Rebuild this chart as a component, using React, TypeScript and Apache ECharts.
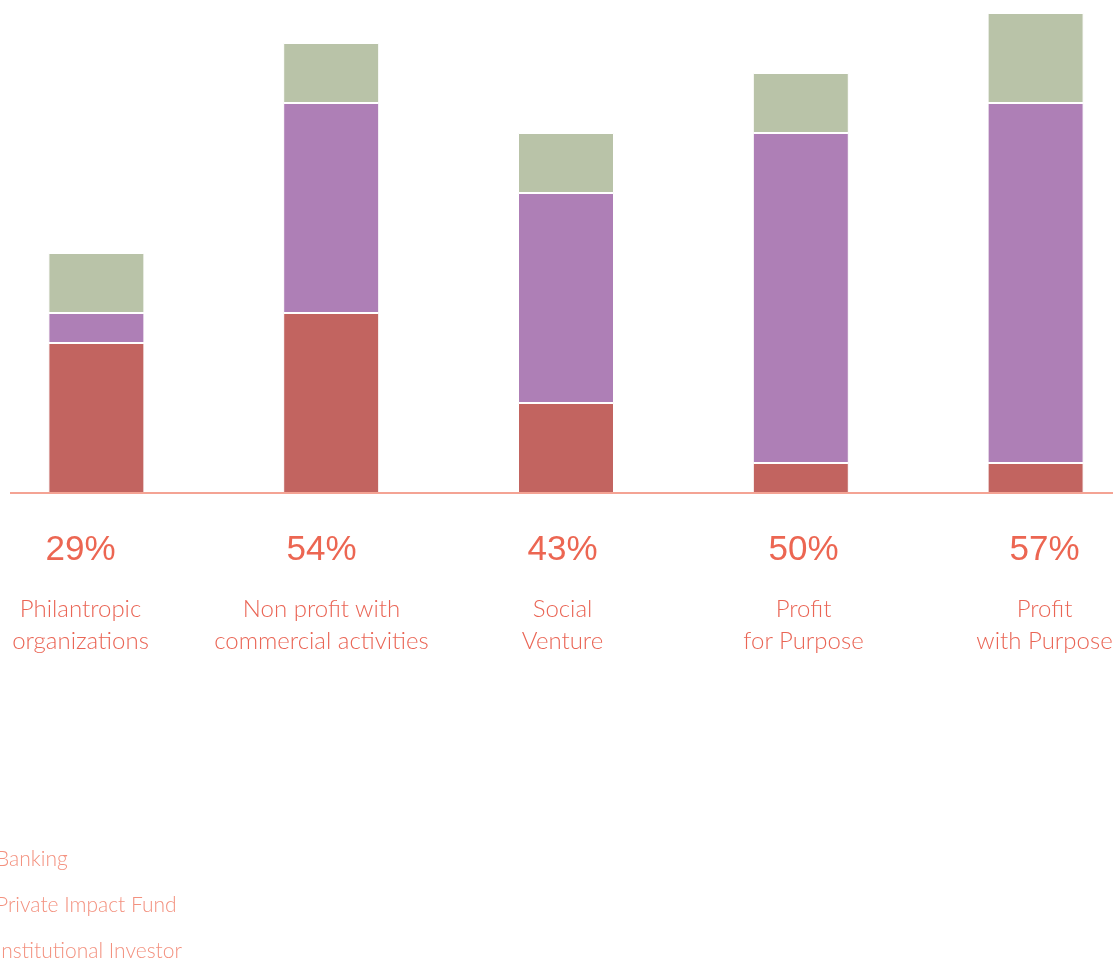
import React, { useEffect, useRef } from "react";
import * as echarts from "echarts";

const categories = [
  "Philantropic\norganizations",
  "Non profit with\ncommercial activities",
  "Social\nVenture",
  "Profit\nfor Purpose",
  "Profit\nwith Purpose",
];
const percentLabels = ["29%", "54%", "43%", "50%", "57%"];
const seriesNames = ["Banking", "Private Impact Fund", "Institutional Investor"];
const banking = [5, 6, 3, 1, 1];
const privateImpactFund = [1, 7, 7, 11, 12];
const institutionalInvestor = [2, 2, 2, 2, 3];
const colors = ["#c26460", "#ae7fb6", "#b9c3a8"];

export default function App() {
  const ref = useRef<HTMLDivElement>(null);
  useEffect(() => {
    if (!ref.current) return;
    const chart = echarts.init(ref.current, undefined, { renderer: "svg" });
    const values = [banking, privateImpactFund, institutionalInvestor];
    const labelCats = categories.map((c, i) => percentLabels[i] + "|" + c);
    chart.setOption({
      animation: false,
      color: colors,
      legend: {
        orient: "vertical",
        left: -35,
        top: 847,
        padding: 0,
        itemGap: 25,
        itemWidth: 25,
        itemHeight: 14,
        data: seriesNames,
        textStyle: {
          color: "#f3917f",
          fontFamily: "Lato",
          fontWeight: 300,
          fontSize: 21,
        },
      },
      grid: [
        { left: -21, width: 1174, top: 13, height: 480, outerBoundsMode: "none", containLabel: false },
        { left: -40, width: 1205, top: 13, height: 480, outerBoundsMode: "none", containLabel: false },
      ],
      xAxis: [
        {
          type: "category",
          gridIndex: 0,
          data: categories,
          axisLine: { show: false },
          axisTick: { show: false },
          axisLabel: { show: false },
        },
        {
          type: "category",
          gridIndex: 1,
          data: labelCats,
          axisLine: { show: false },
          axisTick: { show: false },
          axisLabel: {
            margin: 10,
            interval: 0,
            formatter: (v: string) => {
              const [p, c] = v.split("|");
              return "{p|" + p + "}\n" + c.split("\n").map((l) => "{c|" + l + "}").join("\n");
            },
            rich: {
              p: {
                fontFamily: "Liberation Sans",
                fontSize: 35,
                lineHeight: 88,
                color: "#ec6652",
                align: "center",
              },
              c: {
                fontFamily: "Lato",
                fontWeight: 300,
                fontSize: 24,
                lineHeight: 32,
                color: "#ea6555",
                align: "center",
              },
            },
          },
        },
      ],
      yAxis: [
        { type: "value", gridIndex: 0, min: 0, max: 16, show: false },
        { type: "value", gridIndex: 1, min: 0, max: 16, show: false },
      ],
      graphic: [
        {
          type: "line",
          shape: { x1: 10, y1: 493, x2: 1113, y2: 493 },
          style: { stroke: "#f4a394", lineWidth: 2 },
          z: 10,
        },
      ],
      series: seriesNames.map((name, i) => ({
        name,
        type: "bar",
        stack: "total",
        xAxisIndex: 0,
        yAxisIndex: 0,
        barWidth: 96,
        data: values[i],
        itemStyle: { color: colors[i], borderColor: "#ffffff", borderWidth: 1 },
      })),
    });
    return () => chart.dispose();
  }, []);
  return (
    <div
      ref={ref}
      style={{ position: "fixed", left: 0, top: 0, width: 1113, height: 965 }}
    />
  );
}
